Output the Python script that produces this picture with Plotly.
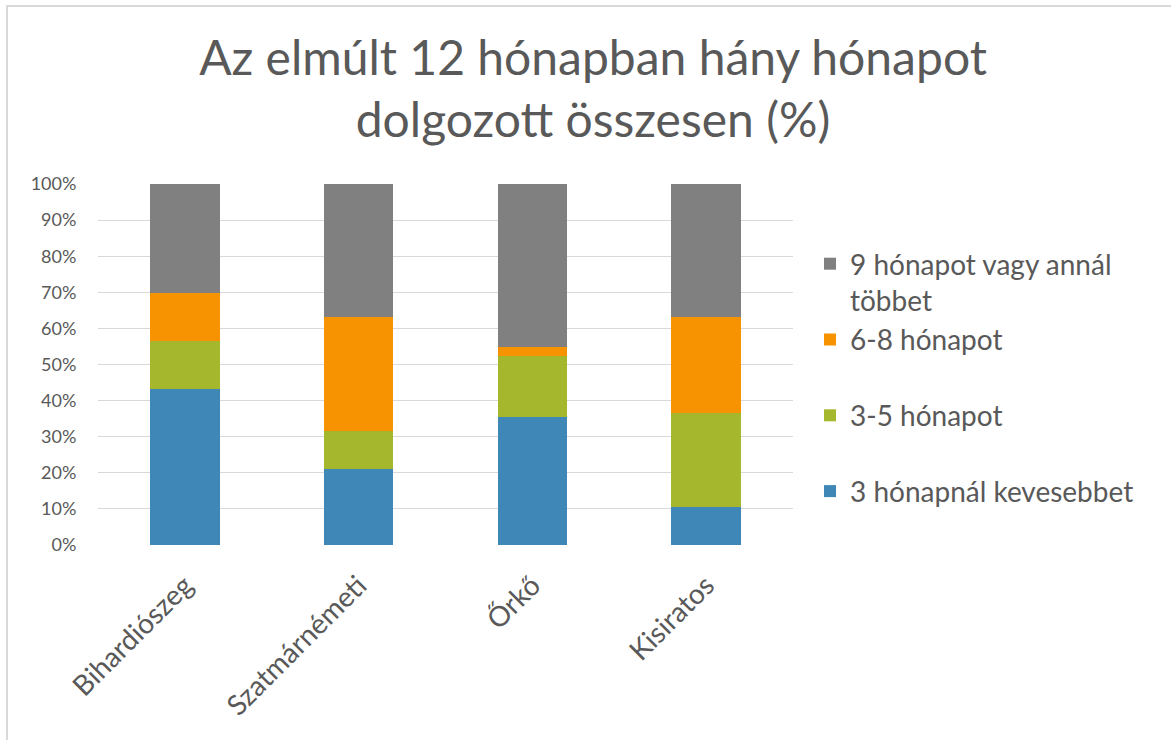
import plotly.graph_objects as go

categories = ["Bihardiószeg", "Szatmárnémeti", "Őrkő", "Kisiratos"]
series_names = ["3 hónapnál kevesebbet", "3-5 hónapot", "6-8 hónapot", "9 hónapot vagy annál többet"]
legend_labels = ["3 hónapnál kevesebbet<br> ", "3-5 hónapot<br> ", "6-8 hónapot<br> ", "9 hónapot vagy annál<br>többet"]
legend_ranks = [4, 3, 2, 1]
less_than_3 = [43.2, 21.0, 35.5, 10.6]
months_3_5 = [13.3, 10.6, 16.9, 26.0]
months_6_8 = [13.4, 31.5, 2.4, 26.5]
months_9_plus = [30.1, 36.9, 45.2, 36.9]
colors = ["#3F87B6", "#A5B72C", "#F79200", "#808080"]
y_ticks = [0, 10, 20, 30, 40, 50, 60, 70, 80, 90, 100]
y_tick_labels = [f"{v}%" for v in y_ticks]

W, H = 1171, 740
ML, MR, MT, MB = 98, 378, 184, 195
PW, PH = W - ML - MR, H - MT - MB

fig = go.Figure()
for name, lab, rank, vals, col in zip(series_names, legend_labels, legend_ranks,
                                      [less_than_3, months_3_5, months_6_8, months_9_plus], colors):
    fig.add_trace(go.Bar(x=categories, y=vals, name=lab, marker_color=col,
                         marker_line_width=0, legendgroup=name, legendrank=rank,
                         hovertemplate=name + ": %{y}%<extra></extra>"))

def px_x(p):
    return (p - ML) / PW

def px_y(p):
    return (H - MB - p) / PH

fig.update_layout(
    width=W, height=H,
    margin=dict(l=ML, r=MR, t=MT, b=MB),
    barmode="stack", bargap=0.6,
    paper_bgcolor="white", plot_bgcolor="white",
    font=dict(family="Lato", color="#595959"),
    title=dict(text="Az elmúlt 12 hónapban hány hónapot<br>dolgozott összesen (%)",
               x=593 / W, xref="container", xanchor="center",
               y=1 - 75 / H, yref="container", yanchor="top",
               font=dict(size=48, color="#595959", family="Lato")),
    xaxis=dict(tickangle=-45, tickfont=dict(size=28, color="#595959"),
               showline=False, showgrid=False,
               ticks="outside", ticklen=12, tickcolor="rgba(0,0,0,0)"),
    yaxis=dict(range=[0, 100], tickvals=y_ticks, ticktext=y_tick_labels,
               tickfont=dict(size=18, color="#595959"),
               showgrid=True, gridcolor="#D9D9D9", gridwidth=1,
               zeroline=False, showline=False,
               ticks="outside", ticklen=17, tickcolor="rgba(0,0,0,0)"),
    legend=dict(x=px_x(810), y=px_y(239), xanchor="left", yanchor="top",
                traceorder="grouped", tracegroupgap=0, valign="top",
                font=dict(size=28, color="#595959"), itemwidth=30,
                bgcolor="rgba(0,0,0,0)"),
    shapes=[
        dict(type="line", xref="paper", yref="paper", x0=px_x(6), x1=px_x(W + 5),
             y0=px_y(6), y1=px_y(6), line=dict(color="#D9D9D9", width=2)),
        dict(type="line", xref="paper", yref="paper", x0=px_x(7), x1=px_x(7),
             y0=px_y(6), y1=px_y(H + 5), line=dict(color="#D9D9D9", width=2)),
    ],
)

fig.write_html("out.html", config={"displayModeBar": False},
               post_script="document.body.style.margin='0px';")
